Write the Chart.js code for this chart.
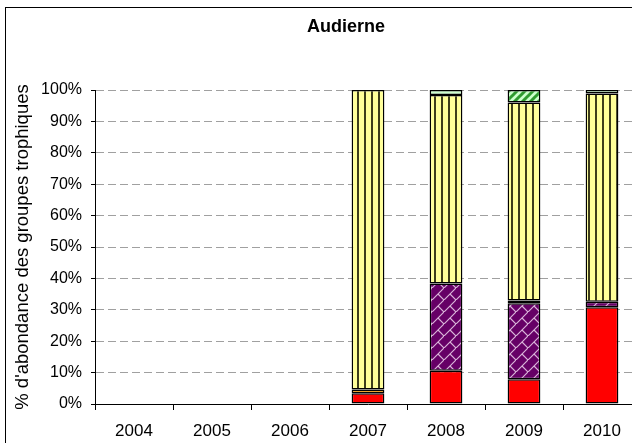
<!DOCTYPE html>
<html>
<head>
<meta charset="utf-8">
<script src="https://cdn.jsdelivr.net/npm/chart.js@4.4.1/dist/chart.umd.min.js"></script>
<style>
  html, body { margin:0; padding:0; background:#fff; }
  #wrap { position:relative; width:632px; height:443px; overflow:hidden; background:#fff; }
  #frame { position:absolute; left:5px; top:7px; width:720px; height:520px; border:1px solid #000; box-sizing:border-box; }
  #c { position:absolute; left:0; top:0; }
  #title { position:absolute; left:246px; width:200px; top:16.5px; text-align:center;
           font:bold 18px/18px "Liberation Sans", Arial, sans-serif; color:#000; }
</style>
</head>
<body>
<div id="wrap">
  <div id="frame"></div>
  <canvas id="c" width="700" height="480"></canvas>
  <div id="title">Audierne</div>
</div>
<script>
// ---- data (percent of abundance per trophic group) ----
const years = ['2004', '2005', '2006', '2007', '2008', '2009', '2010'];
const groupRed      = [null, null, null, 3.4, 10.6, 7.9, 30.8];
const groupOrange   = [null, null, null, 1.2, null, null, null];
const groupPurple   = [null, null, null, null, 27.8, 24.2, 1.8];
const groupCyan     = [null, null, null, null, null, 0.9, null];
const groupYellow   = [null, null, null, 95.4, 60.0, 63.0, 66.3];
const groupLtGreen  = [null, null, null, null, 1.6, null, 1.1];
const groupGreen    = [null, null, null, null, null, 4.0, null];
const yTicks = [0, 10, 20, 30, 40, 50, 60, 70, 80, 90, 100];

// ---- fill patterns ----
function makePattern(w, h, draw) {
  const t = document.createElement('canvas');
  t.width = w; t.height = h;
  const g = t.getContext('2d');
  draw(g, w, h);
  return document.getElementById('c').getContext('2d').createPattern(t, 'repeat');
}
const yellowPat = makePattern(7, 7, (g, w, h) => {
  g.fillStyle = '#FFFF99'; g.fillRect(0, 0, w, h);
  g.fillStyle = '#3d3d1a'; g.fillRect(0, 0, 2, h);
});
const purplePat = makePattern(12, 12, (g, w, h) => {
  g.fillStyle = '#660066'; g.fillRect(0, 0, w, h);
  g.strokeStyle = '#d9b3d9'; g.lineWidth = 1.2;
  g.beginPath();
  g.moveTo(-1, 13); g.lineTo(13, -1);
  g.moveTo(6, 6); g.lineTo(13, 13);
  g.stroke();
});
const greenPat = makePattern(8, 8, (g, w, h) => {
  g.fillStyle = '#CCFFCC'; g.fillRect(0, 0, w, h);
  g.strokeStyle = '#2f9a2f'; g.lineWidth = 3;
  g.beginPath();
  g.moveTo(-2, 10); g.lineTo(10, -2);
  g.moveTo(-6, 6); g.lineTo(6, -6);
  g.moveTo(2, 14); g.lineTo(14, 2);
  g.stroke();
});

const FONT = '"Liberation Sans", Arial, sans-serif';
function ds(label, data, bg) {
  return { label, data, backgroundColor: bg, borderColor: '#000', borderWidth: 1.5,
           borderSkipped: false, categoryPercentage: 1, barPercentage: 0.42 };
}

new Chart(document.getElementById('c'), {
  type: 'bar',
  data: {
    labels: years,
    datasets: [
      ds('Groupe rouge', groupRed, '#FF0000'),
      ds('Groupe orange', groupOrange, '#FF9900'),
      ds('Groupe violet', groupPurple, purplePat),
      ds('Groupe cyan', groupCyan, '#CCFFFF'),
      ds('Groupe jaune', groupYellow, yellowPat),
      ds('Groupe vert clair', groupLtGreen, '#CCFFCC'),
      ds('Groupe vert', groupGreen, greenPat)
    ]
  },
  options: {
    responsive: false,
    animation: false,
    devicePixelRatio: 1,
    layout: { padding: { left: 5, right: 59, top: 90, bottom: 0 } },
    plugins: { legend: { display: false }, title: { display: false }, tooltip: { enabled: false } },
    scales: {
      x: {
        stacked: true,
        offset: true,
        afterFit: (s) => { s.height = 76; },
        grid: { display: true, drawOnChartArea: false, drawTicks: true, tickLength: 6,
                color: '#000', tickColor: '#000', offset: true },
        border: { display: true, color: '#000', width: 1 },
        ticks: { color: '#000', padding: 11, maxRotation: 0, font: { family: FONT, size: 17 } }
      },
      y: {
        stacked: true,
        min: 0, max: 100,
        afterFit: (s) => { s.width = 90; },
        afterBuildTicks: (s) => { s.ticks = yTicks.map(v => ({ value: v })); },
        grid: { color: '#a0a0a0', tickColor: '#000', tickLength: 4, tickBorderDash: [] },
        border: { display: true, color: '#000', width: 1, dash: [8, 4] },
        ticks: { color: '#000', padding: 9, font: { family: FONT, size: 16 },
                 callback: (v) => v + '%' },
        title: { display: true, text: "% d'abondance des groupes trophiques", color: '#000',
                 padding: { top: 7, bottom: 0 }, font: { family: FONT, size: 18.5 } }
      }
    }
  }
});
</script>
</body>
</html>
